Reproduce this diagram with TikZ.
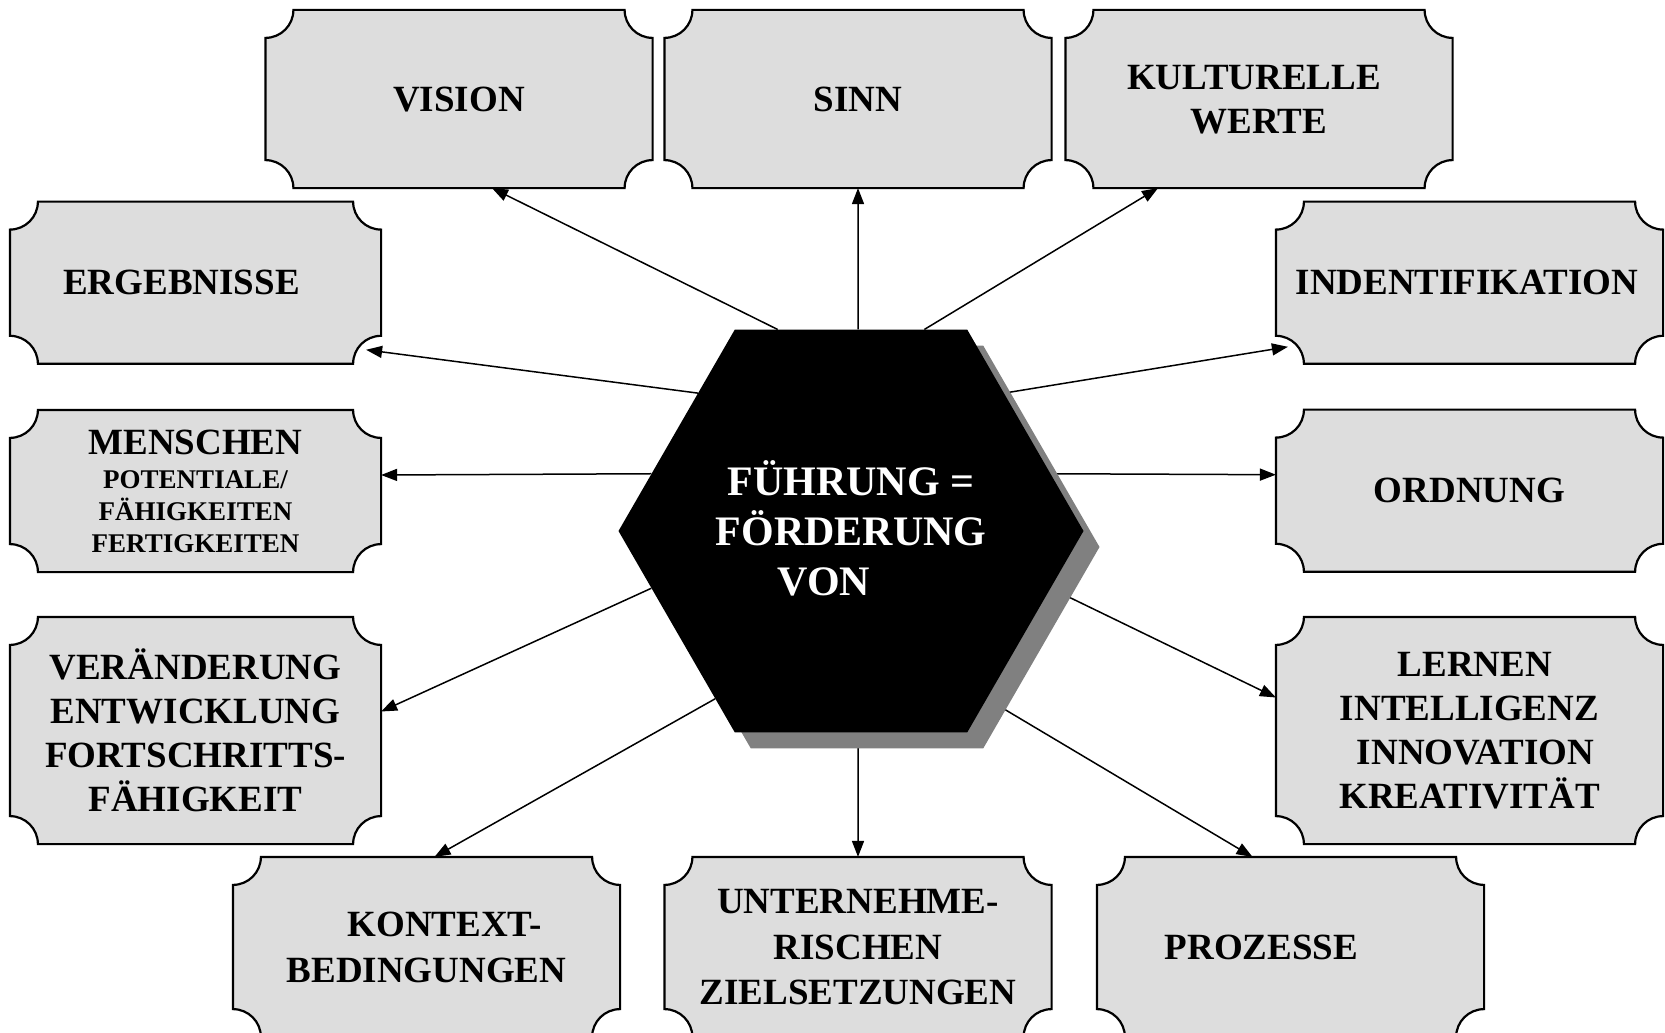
\documentclass[tikz,border=0pt]{standalone}
\usepackage{fontspec}
\setmainfont{Liberation Serif}
\usetikzlibrary{shapes.geometric,shadows,arrows.meta}

\definecolor{boxfill}{RGB}{221,221,221}
\definecolor{shadowgray}{RGB}{128,128,128}

% Rectangle with concave (scooped) quarter-circle corners
\makeatletter
\newdimen\tkxa \newdimen\tkxb \newdimen\tkya \newdimen\tkyb
\def\tkrad{28pt}
\pgfdeclareshape{ticket}{%
  \inheritsavedanchors[from=rectangle]%
  \inheritanchorborder[from=rectangle]%
  \inheritanchor[from=rectangle]{center}%
  \inheritanchor[from=rectangle]{north}%
  \inheritanchor[from=rectangle]{south}%
  \inheritanchor[from=rectangle]{east}%
  \inheritanchor[from=rectangle]{west}%
  \inheritanchor[from=rectangle]{north east}%
  \inheritanchor[from=rectangle]{north west}%
  \inheritanchor[from=rectangle]{south east}%
  \inheritanchor[from=rectangle]{south west}%
  \inheritanchor[from=rectangle]{mid}%
  \inheritanchor[from=rectangle]{base}%
  \backgroundpath{%
    \southwest \tkxa=\pgf@x \tkya=\pgf@y
    \northeast \tkxb=\pgf@x \tkyb=\pgf@y
    \pgfpathmoveto{\pgfpoint{\tkxa+\tkrad}{\tkyb}}%
    \pgfpathlineto{\pgfpoint{\tkxb-\tkrad}{\tkyb}}%
    \pgfpatharc{180}{270}{\tkrad}%
    \pgfpathlineto{\pgfpoint{\tkxb}{\tkya+\tkrad}}%
    \pgfpatharc{90}{180}{\tkrad}%
    \pgfpathlineto{\pgfpoint{\tkxa+\tkrad}{\tkya}}%
    \pgfpatharc{0}{90}{\tkrad}%
    \pgfpathlineto{\pgfpoint{\tkxa}{\tkyb-\tkrad}}%
    \pgfpatharc{270}{360}{\tkrad}%
    \pgfpathclose
  }%
}
\makeatother

\pgfdeclarelayer{backdrop}
\pgfdeclarelayer{connectors}
\pgfsetlayers{backdrop,connectors,main}

\newcommand\boxfont{\fontsize{37}{44}\selectfont\bfseries}
\newcommand\lowboxfont{\fontsize{37}{45.5}\selectfont\bfseries}
\newcommand\smallboxfont{\fontsize{27}{32}\selectfont\bfseries}
\newcommand\hexfont{\fontsize{42}{50}\selectfont\bfseries}

\tikzset{
  ticketbox/.style={shape=ticket, fill=boxfill, draw=black, line width=2.2pt,
    inner sep=0pt, align=center, font=\boxfont, text=black, text depth=-8pt},
  toprow/.style={ticketbox, minimum width=385pt, minimum height=176pt},
  leftcol/.style={ticketbox, minimum width=369pt, minimum height=#1},
  rightcol/.style={ticketbox, minimum width=385pt, minimum height=#1},
  bottomrow/.style={ticketbox, minimum width=385pt, minimum height=178pt,
    font=\lowboxfont},
  hexa/.style={regular polygon, regular polygon sides=6, minimum size=465pt,
    inner sep=0pt, fill=black, text=white, font=\hexfont, align=center,
    text depth=5pt,
    general shadow={fill=shadowgray, shadow xshift=16pt, shadow yshift=-16pt}},
  conn/.style={line width=1.5pt, -{Triangle[length=16pt,width=12pt]}}
}

\begin{document}
\begin{tikzpicture}[x=1pt,y=-1pt]
  \useasboundingbox (0,0) rectangle (1665,1033);
  \clip (0,0) rectangle (1665,1033);
  \begin{pgfonlayer}{backdrop}
    \fill[white] (0,0) rectangle (1665,1033);
  \end{pgfonlayer}

  % central hexagon
  \node[hexa] (hex) at (851,531) {FÜHRUNG =\\FÖRDERUNG\\VON\hspace*{54pt}};

  % top row
  \node[toprow] (vision) at (459,99) {VISION};
  \node[toprow] (sinn) at (858,99) {SINN};
  \node[toprow] (kultur) at (1259,99) {KULTURELLE\hspace*{10pt}\\WERTE};

  % left column
  \node[leftcol=160pt] (erg) at (195.5,282.7) {ERGEBNISSE\hspace*{28pt}};
  \node[leftcol=160pt, font=\smallboxfont] (menschen) at (195.5,491)
    {{\fontsize{37}{44}\selectfont MENSCHEN}\\[2pt]POTENTIALE/\\FÄHIGKEITEN\\FERTIGKEITEN};
  \node[leftcol=225pt, text depth=-4pt] (verand) at (195.5,730.5)
    {VERÄNDERUNG\\ENTWICKLUNG\\FORTSCHRITTS-\\FÄHIGKEIT};

  % right column
  \node[rightcol=160pt] (indent) at (1469.5,282.7) {INDENTIFIKATION\hspace*{5pt}};
  \node[rightcol=160pt] (ordnung) at (1469.5,490.7) {ORDNUNG};
  \node[rightcol=225pt] (lernen) at (1469.5,730.5)
    {\hspace*{11pt}LERNEN\\INTELLIGENZ\\\hspace*{12pt}INNOVATION\\KREATIVITÄT};

  % bottom row
  \node[bottomrow] (kontext) at (426.5,947) {\hspace*{36pt}KONTEXT-\\BEDINGUNGEN};
  \node[bottomrow] (unter) at (858,947) {UNTERNEHME-\\RISCHEN\\ZIELSETZUNGEN};
  \node[bottomrow] (prozesse) at (1290.5,947) {PROZESSE\hspace*{58pt}};

  % connectors, drawn beneath the hexagon and its shadow
  \begin{pgfonlayer}{connectors}
    \draw[conn] (hex.110) -- ([shift={(33,0)}]vision.south);
    \draw[conn] (hex.88) -- (sinn.south);
    \draw[conn] (hex.70) -- ([shift={(-101,0)}]kultur.south);
    \draw[conn] (hex.138) -- ([shift={(-15,-14)}]erg.south east);
    \draw[conn] (hex.42) -- ([shift={(12,-17)}]indent.south west);
    \draw[conn] (hex.164) -- ([shift={(0,-16)}]menschen.east);
    \draw[conn] (hex.16) -- ([shift={(0,-16)}]ordnung.west);
    \draw[conn] (hex.196) -- ([shift={(0,-19)}]verand.east);
    \draw[conn] (hex.344) -- ([shift={(0,-33)}]lernen.west);
    \draw[conn] (hex.231) -- ([shift={(8,0)}]kontext.north);
    \draw[conn] (hex.272) -- (unter.north);
    \draw[conn] (hex.309) -- ([shift={(-38,0)}]prozesse.north);
  \end{pgfonlayer}
\end{tikzpicture}
\end{document}
